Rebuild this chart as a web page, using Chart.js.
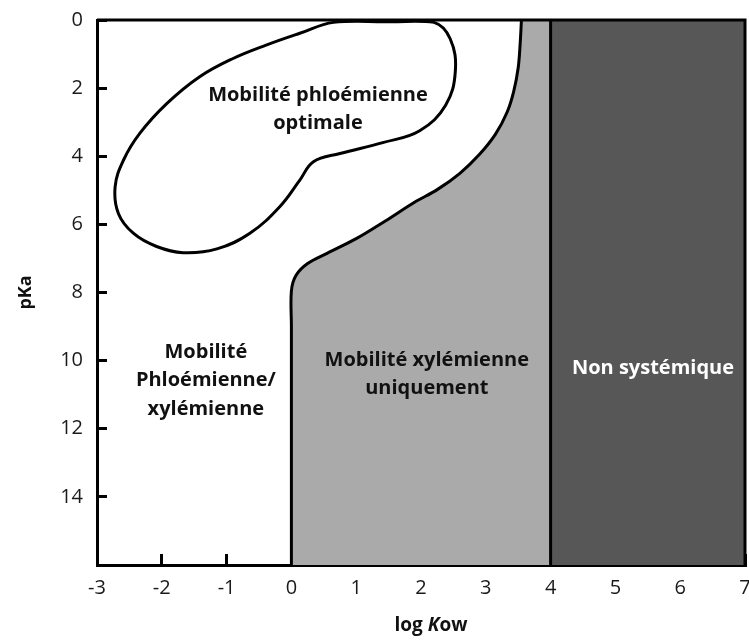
<!DOCTYPE html>
<html><head><meta charset="utf-8">
<script src="https://cdn.jsdelivr.net/npm/chart.js@4.4.1/dist/chart.umd.min.js"></script>
<style>html,body{margin:0;padding:0;background:#fff}#wrap{width:749px;height:640px}canvas{display:block}</style>
</head><body><div id="wrap"><canvas id="c" width="749" height="640"></canvas></div>
<script>
// ---- data (log Kow on x, pKa on y) ----
const xTicks = [-3, -2, -1, 0, 1, 2, 3, 4, 5, 6, 7];
const yTicks = [0, 2, 4, 6, 8, 10, 12, 14, 16];
const yTickLabels = ['0', '2', '4', '6', '8', '10', '12', '14', ''];

// boundary between phloem/xylem zone and xylem-only zone
const xylemBoundaryX = [3.55, 3.53, 3.5, 3.43, 3.33, 3.15, 2.9, 2.6, 2.25, 1.9, 1.45, 1.0, 0.55, 0.25, 0.07, 0, 0, 0];
const xylemBoundaryY = [0, 0.7, 1.4, 2.1, 2.7, 3.35, 3.95, 4.5, 4.98, 5.35, 5.9, 6.42, 6.85, 7.15, 7.5, 7.95, 9, 16];

// strip of xylem-only zone up to log Kow = 4
const xylemStripX = [3.53, 4];
const xylemStripY = [0, 0];

// non-systemic zone
const nonSystemicX = [4, 7];
const nonSystemicY = [0, 0];

// divider at log Kow = 4
const dividerX = [4, 4];
const dividerY = [0, 16];

// closed loop: optimal phloem mobility
const optimalLoopX = [1.5, 2.2, 2.45, 2.53, 2.38, 1.98, 1.41, 0.75, 0.34, 0.13, -0.18, -0.64, -1.15, -1.67, -2.08, -2.44, -2.67, -2.72, -2.59, -2.34, -1.92, -1.41, -0.9, -0.38, 0.13, 0.65, 1.5];
const optimalLoopY = [0.05, 0.07, 0.55, 1.5, 2.5, 3.25, 3.6, 3.92, 4.16, 4.7, 5.48, 6.26, 6.72, 6.83, 6.65, 6.26, 5.68, 4.89, 4.11, 3.33, 2.45, 1.66, 1.13, 0.73, 0.39, 0.07, 0.05];

// zone labels
const zoneLabels = [
  { lines: ['Mobilité phloémienne', 'optimale'], x: 0.41, y: 2.2, color: '#111' },
  { lines: ['Mobilité', 'Phloémienne/', 'xylémienne'], x: -1.32, y: 9.75, color: '#111' },
  { lines: ['Mobilité xylémienne', 'uniquement'], x: 2.09, y: 9.98, color: '#111' },
  { lines: ['Non systémique'], x: 5.58, y: 10.22, color: '#ffffff' }
];

const FONT = "'Open Sans', 'Liberation Sans', sans-serif";
const pts = (xs, ys) => xs.map((x, i) => ({ x: x, y: ys[i] }));

const labelPlugin = {
  id: 'zoneLabels',
  afterDatasetsDraw(chart) {
    const { ctx, chartArea: a } = chart;
    ctx.save();
    ctx.lineWidth = 3;
    ctx.strokeStyle = '#000';
    ctx.beginPath();
    ctx.moveTo(a.left, a.top); ctx.lineTo(a.right, a.top); ctx.lineTo(a.right, a.bottom);
    ctx.stroke();
    ctx.restore();
  },
  afterDraw(chart) {
    const { ctx, chartArea: a, scales } = chart;
    ctx.save();
    ctx.textAlign = 'center';
    ctx.textBaseline = 'middle';
    ctx.font = 'bold 20px ' + FONT;
    zoneLabels.forEach(l => {
      const px = scales.x.getPixelForValue(l.x);
      const py = scales.y.getPixelForValue(l.y);
      ctx.fillStyle = l.color;
      l.lines.forEach((t, i) => ctx.fillText(t, px, py + i * 28.5));
    });
    // x axis title with italic K
    const parts = [['log ', 'bold '], ['K', 'italic bold '], ['ow', 'bold ']];
    let total = 0;
    parts.forEach(p => { ctx.font = p[1] + '19px ' + FONT; total += ctx.measureText(p[0]).width; });
    let x = (a.left + a.right) / 2 + 10 - total / 2;
    const y = scales.x.bottom - 14;
    ctx.textAlign = 'left';
    ctx.fillStyle = '#111';
    parts.forEach(p => { ctx.font = p[1] + '19px ' + FONT; ctx.fillText(p[0], x, y); x += ctx.measureText(p[0]).width; });
    ctx.restore();
  }
};

new Chart(document.getElementById('c'), {
  type: 'scatter',
  data: {
    datasets: [
      { data: pts(optimalLoopX, optimalLoopY), showLine: true, borderColor: '#000', borderWidth: 3, tension: 0.4, fill: false, pointRadius: 0 },
      { data: pts(dividerX, dividerY), showLine: true, borderColor: '#000', borderWidth: 3, fill: false, pointRadius: 0 },
      { data: pts(xylemBoundaryX, xylemBoundaryY), showLine: true, borderColor: '#000', borderWidth: 3, tension: 0.35, fill: 'start', backgroundColor: '#aaaaaa', pointRadius: 0 },
      { data: pts(xylemStripX, xylemStripY), showLine: true, borderWidth: 0, borderColor: 'rgba(0,0,0,0)', fill: 'start', backgroundColor: '#aaaaaa', pointRadius: 0 },
      { data: pts(nonSystemicX, nonSystemicY), showLine: true, borderWidth: 0, borderColor: 'rgba(0,0,0,0)', fill: 'start', backgroundColor: '#575757', pointRadius: 0 }
    ]
  },
  options: {
    responsive: false,
    animation: false,
    layout: { padding: { top: 20, right: 4, left: 0, bottom: 0 } },
    plugins: { legend: { display: false }, tooltip: { enabled: false } },
    scales: {
      x: {
        type: 'linear', min: -3, max: 7, position: 'bottom', z: 1,
        afterBuildTicks: s => { s.ticks = xTicks.map(v => ({ value: v })); },
        ticks: { padding: 22, color: '#1a1a1a', font: { family: FONT, size: 20 }, autoSkip: false, maxRotation: 0 },
        grid: { drawOnChartArea: false, drawTicks: true, tickLength: -11, tickWidth: 3, tickColor: '#000' },
        border: { display: true, color: '#000', width: 3 },
        afterFit: s => { s.height = 75; s.paddingLeft = 0; s.paddingRight = 0; }
      },
      y: {
        type: 'linear', min: 0, max: 16, reverse: true, z: 1,
        afterBuildTicks: s => { s.ticks = yTicks.map(v => ({ value: v })); },
        ticks: { padding: 24, color: '#1a1a1a', font: { family: FONT, size: 20 }, autoSkip: false,
          callback: (v) => yTickLabels[yTicks.indexOf(v)] },
        grid: { drawOnChartArea: false, drawTicks: true, tickLength: -10, tickWidth: 3, tickColor: '#000' },
        border: { display: true, color: '#000', width: 3 },
        title: { display: true, text: 'pKa', color: '#111', font: { family: FONT, weight: 'bold', size: 18 }, padding: { top: 15, bottom: 0 } },
        afterFit: s => { s.width = 97; s.paddingTop = 0; s.paddingBottom = 0; }
      }
    }
  },
  plugins: [labelPlugin]
});
</script>
</body></html>
